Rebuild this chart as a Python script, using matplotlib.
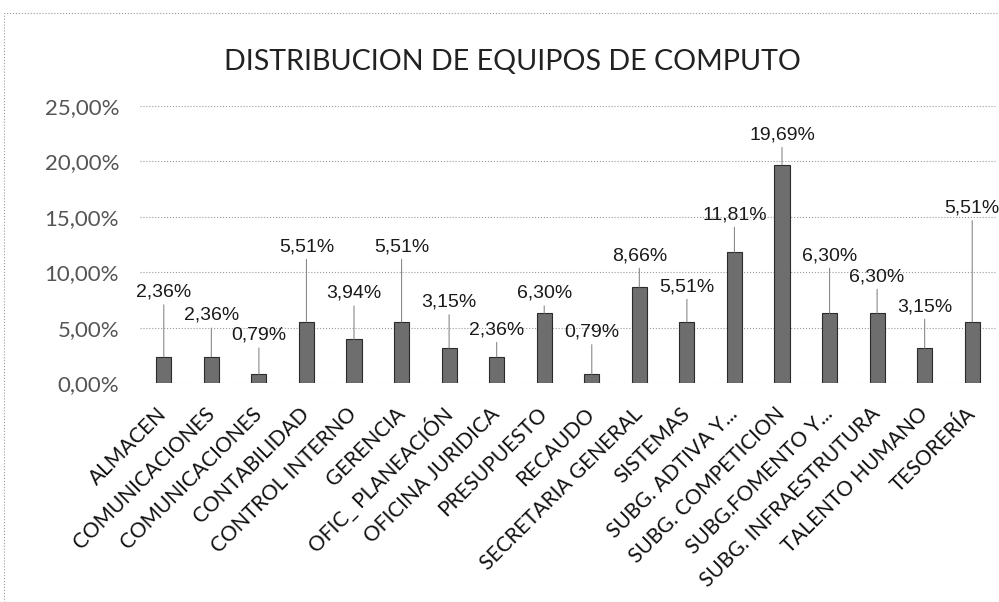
import matplotlib.pyplot as plt
from matplotlib.patches import Rectangle

# data
categorias = ["ALMACEN", "COMUNICACIONES", "COMUNICACIONES", "CONTABILIDAD",
              "CONTROL INTERNO", "GERENCIA", "OFIC_ PLANEACIÓN", "OFICINA JURIDICA",
              "PRESUPUESTO", "RECAUDO", "SECRETARIA GENERAL", "SISTEMAS",
              "SUBG. ADTIVA Y...", "SUBG. COMPETICION", "SUBG.FOMENTO Y...",
              "SUBG. INFRAESTRUTURA", "TALENTO HUMANO", "TESORERÍA"]
porcentajes = [2.36, 2.36, 0.79, 5.51, 3.94, 5.51, 3.15, 2.36, 6.30, 0.79,
               8.66, 5.51, 11.81, 19.69, 6.30, 6.30, 3.15, 5.51]
y_ticks = [0, 5, 10, 15, 20, 25]

# where each data label sits (y, in %), as in the original
label_y = [8.2, 6.1, 4.3, 12.3, 8.1, 12.3, 7.3, 4.8, 8.1, 4.6,
           11.5, 8.7, 15.2, 22.4, 11.5, 9.6, 6.9, 15.8]

fig = plt.figure(figsize=(9.99, 6.02), dpi=100)
ax = fig.add_axes([140 / 999, 1 - 383 / 602, (996 - 140) / 999, (383 - 106) / 602])

x = list(range(len(categorias)))
ax.bar(x, porcentajes, width=0.32, color="#6e6e6e", edgecolor="#2b2b2b",
       linewidth=0.8, zorder=3)

# data labels with leader lines
for i, (v, ly) in enumerate(zip(porcentajes, label_y)):
    txt = f"{v:.2f}%".replace(".", ",")
    ax.annotate(txt, xy=(i, v), xytext=(i, ly), ha="center", va="center",
                fontsize=14, family="Liberation Sans", color="#1a1a1a",
                arrowprops=dict(arrowstyle="-", color="#8a8a8a", lw=0.8,
                                shrinkA=1, shrinkB=0, relpos=(0.5, 0)),
                zorder=4, annotation_clip=False)

ax.set_xlim(-0.5, len(categorias) - 0.5)
ax.set_ylim(0, 25)
ax.set_yticks(y_ticks)
ax.set_yticklabels([f"{t:.2f}%".replace(".", ",") for t in y_ticks],
                   fontsize=16, family="Lato", color="#555555")
ax.set_xticks(x)
ax.set_xticklabels(categorias, rotation=45, ha="right", va="center",
                   rotation_mode="anchor", fontsize=15, family="Lato",
                   color="#111111")
ax.tick_params(axis="both", length=0)
ax.tick_params(axis="y", pad=15)
ax.tick_params(axis="x", pad=20)
ax.grid(axis="y", linestyle=":", color="#9a9a9a", linewidth=0.8, zorder=0)
for s in ax.spines.values():
    s.set_visible(False)

fig.text(512 / 999, 1 - 62 / 602, "DISTRIBUCION DE EQUIPOS DE COMPUTO",
         ha="center", va="center", fontsize=20.6, family="Lato", color="#222222")

# chart area border (dotted, as in the scan)
fig.patches.append(Rectangle((4 / 999, 0.0), 1.0, 1 - 13 / 602,
                             transform=fig.transFigure, fill=False,
                             linestyle=":", linewidth=0.8, edgecolor="#999999"))

fig.savefig("out.png", dpi=100)
